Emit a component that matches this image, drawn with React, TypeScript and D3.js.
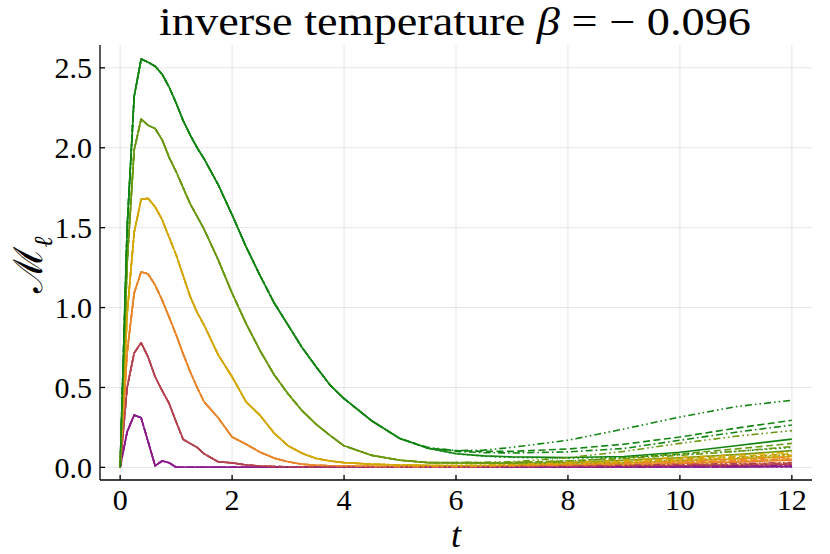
import * as d3 from "d3";

// time grid: shared rise/decay, then the tails where the line styles split apart
const HEAD_T = [0, 0.125, 0.25, 0.375, 0.5, 0.625, 0.75, 0.875, 1, 1.125, 1.25, 1.375, 1.5, 1.75, 2, 2.25, 2.5, 2.75, 3, 3.25, 3.5, 3.75, 4, 4.5, 5];
const TAIL_T = [5.5, 6, 6.5, 7, 8, 9, 10, 11, 12];

const COLORS = ["#8b1a8b", "#b4434f", "#e8862a", "#d4a600", "#6a990f", "#118511"];
const STYLES = ["solid", "dash", "dot", "dashdot", "dashdotdot"];

const HEAD_PURPLE = [0, 0.223, 0.327, 0.31, 0.16, 0.01, 0.04, 0.029, 0.001, 0.001, 0.001, 0.001, 0.001, 0.001, 0.001, 0.001, 0.001, 0.001, 0.001, 0.001, 0.001, 0.001, 0.001, 0.001, 0.001];
const HEAD_RED = [0, 0.5, 0.715, 0.78, 0.69, 0.567, 0.48, 0.4, 0.285, 0.175, 0.15, 0.125, 0.085, 0.035, 0.028, 0.015, 0.008, 0.005, 0.004, 0.003, 0.003, 0.003, 0.003, 0.003, 0.003];
const HEAD_ORANGE = [0, 0.72, 1.09, 1.224, 1.21, 1.14, 1.047, 0.94, 0.83, 0.71, 0.6, 0.5, 0.41, 0.31, 0.19, 0.145, 0.095, 0.058, 0.035, 0.02, 0.013, 0.01, 0.008, 0.006, 0.005];
const HEAD_GOLD = [0, 0.96, 1.47, 1.677, 1.683, 1.63, 1.55, 1.44, 1.33, 1.2, 1.07, 0.97, 0.89, 0.705, 0.567, 0.41, 0.325, 0.215, 0.135, 0.088, 0.056, 0.04, 0.03, 0.02, 0.015];
const HEAD_OLIVE = [0, 1.28, 1.985, 2.18, 2.14, 2.12, 2.05, 1.94, 1.85, 1.75, 1.65, 1.57, 1.49, 1.3, 1.09, 0.9, 0.73, 0.58, 0.46, 0.355, 0.27, 0.2, 0.135, 0.075, 0.045];
const HEAD_GREEN = [0, 1.5, 2.32, 2.555, 2.535, 2.51, 2.46, 2.38, 2.28, 2.17, 2.08, 2.0, 1.93, 1.77, 1.58, 1.38, 1.2, 1.03, 0.89, 0.75, 0.63, 0.515, 0.43, 0.29, 0.18];

// tails per colour, in STYLES order
const TAIL_PURPLE = [
  [0.001, 0.001, 0.001, 0.001, 0.001, 0.002, 0.002, 0.003, 0.004],
  [0.001, 0.001, 0.001, 0.001, 0.002, 0.003, 0.004, 0.005, 0.007],
  [0.001, 0.001, 0.001, 0.001, 0.001, 0.001, 0.002, 0.002, 0.003],
  [0.001, 0.001, 0.001, 0.001, 0.002, 0.002, 0.003, 0.004, 0.006],
  [0.001, 0.001, 0.001, 0.002, 0.003, 0.004, 0.006, 0.008, 0.01],
];
const TAIL_RED = [
  [0.003, 0.003, 0.003, 0.004, 0.005, 0.007, 0.01, 0.013, 0.017],
  [0.003, 0.003, 0.004, 0.005, 0.007, 0.01, 0.014, 0.019, 0.025],
  [0.003, 0.003, 0.003, 0.003, 0.004, 0.005, 0.007, 0.009, 0.012],
  [0.003, 0.003, 0.003, 0.004, 0.006, 0.009, 0.012, 0.016, 0.021],
  [0.003, 0.003, 0.004, 0.006, 0.009, 0.013, 0.018, 0.024, 0.03],
];
const TAIL_ORANGE = [
  [0.004, 0.004, 0.005, 0.006, 0.01, 0.016, 0.024, 0.033, 0.045],
  [0.004, 0.005, 0.006, 0.008, 0.013, 0.02, 0.03, 0.042, 0.055],
  [0.004, 0.004, 0.004, 0.005, 0.007, 0.011, 0.016, 0.022, 0.03],
  [0.004, 0.004, 0.005, 0.007, 0.011, 0.018, 0.027, 0.037, 0.05],
  [0.004, 0.005, 0.007, 0.01, 0.016, 0.025, 0.036, 0.05, 0.065],
];
const TAIL_GOLD = [
  [0.012, 0.01, 0.01, 0.012, 0.018, 0.028, 0.04, 0.053, 0.068],
  [0.012, 0.011, 0.012, 0.015, 0.025, 0.038, 0.053, 0.068, 0.085],
  [0.012, 0.01, 0.009, 0.009, 0.012, 0.018, 0.027, 0.04, 0.055],
  [0.012, 0.011, 0.011, 0.013, 0.02, 0.032, 0.046, 0.06, 0.075],
  [0.012, 0.012, 0.013, 0.017, 0.03, 0.045, 0.062, 0.078, 0.095],
];
const TAIL_OLIVE = [
  [0.03, 0.027, 0.026, 0.026, 0.03, 0.045, 0.06, 0.08, 0.105],
  [0.03, 0.03, 0.03, 0.031, 0.04, 0.06, 0.085, 0.115, 0.15],
  [0.03, 0.026, 0.024, 0.022, 0.024, 0.03, 0.045, 0.06, 0.08],
  [0.03, 0.029, 0.028, 0.03, 0.04, 0.055, 0.075, 0.1, 0.13],
  [0.03, 0.031, 0.032, 0.035, 0.06, 0.1, 0.15, 0.195, 0.23],
];
const TAIL_GREEN = [
  [0.12, 0.085, 0.072, 0.066, 0.062, 0.068, 0.095, 0.135, 0.177],
  [0.12, 0.105, 0.1, 0.1, 0.115, 0.145, 0.19, 0.245, 0.295],
  [0.12, 0.085, 0.07, 0.062, 0.058, 0.063, 0.08, 0.1, 0.125],
  [0.12, 0.1, 0.092, 0.09, 0.097, 0.118, 0.17, 0.22, 0.265],
  [0.125, 0.105, 0.108, 0.125, 0.17, 0.24, 0.315, 0.38, 0.42],
];

const HEADS = [HEAD_PURPLE, HEAD_RED, HEAD_ORANGE, HEAD_GOLD, HEAD_OLIVE, HEAD_GREEN];
const TAILS = [TAIL_PURPLE, TAIL_RED, TAIL_ORANGE, TAIL_GOLD, TAIL_OLIVE, TAIL_GREEN];

const X_TICKS = [0, 2, 4, 6, 8, 10, 12];
const Y_TICKS = [0, 0.5, 1, 1.5, 2, 2.5];

const DASHES: Record<string, string | undefined> = {
  solid: undefined,
  dash: "7,3.5",
  dot: "1.6,3",
  dashdot: "7,3,1.6,3",
  dashdotdot: "7,3,1.6,3,1.6,3",
};

const W = 830;
const H = 554;
const left = 100;
const right = 812;
const top = 45;
const bottom = 480;
const serif = "'Liberation Serif', 'DejaVu Serif', serif";

export default function App() {
  const x = d3.scaleLinear().domain([-0.36, 12.36]).range([left, right]);
  const y = d3.scaleLinear().domain([-0.079, 2.643]).range([bottom, top]);

  const line = d3
    .line<[number, number]>()
    .x((d) => x(d[0]))
    .y((d) => y(d[1]));

  const series: { color: string; style: string; pts: [number, number][] }[] = [];
  STYLES.forEach((style, si) => {
    HEADS.forEach((head, ci) => {
      const pts: [number, number][] = HEAD_T.map((t, i) => [t, head[i]]);
      TAIL_T.forEach((t, i) => pts.push([t, TAILS[ci][si][i]]));
      series.push({ color: COLORS[ci], style, pts });
    });
  });

  return (
    <svg width={W} height={H} style={{ position: "absolute", left: 0, top: 0, background: "#fff" }}>
      <g stroke="#000" strokeOpacity={0.1} strokeWidth={1}>
        {X_TICKS.map((t) => (
          <line key={"gx" + t} x1={x(t)} x2={x(t)} y1={top} y2={bottom} />
        ))}
        {Y_TICKS.map((t) => (
          <line key={"gy" + t} x1={left} x2={right} y1={y(t)} y2={y(t)} />
        ))}
      </g>

      <g fill="none" strokeWidth={1.6} strokeLinejoin="round">
        {series.map((s, i) => (
          <path key={i} d={line(s.pts) ?? ""} stroke={s.color} strokeDasharray={DASHES[s.style]} />
        ))}
      </g>

      <g stroke="#000" strokeWidth={1.3}>
        <line x1={left} x2={left} y1={top} y2={bottom} />
        <line x1={left} x2={right} y1={bottom} y2={bottom} />
        {X_TICKS.map((t) => (
          <line key={"tx" + t} x1={x(t)} x2={x(t)} y1={bottom} y2={bottom - 5} />
        ))}
        {Y_TICKS.map((t) => (
          <line key={"ty" + t} x1={left} x2={left + 5} y1={y(t)} y2={y(t)} />
        ))}
      </g>

      <g fontFamily={serif} fontSize={30} fill="#000">
        {Y_TICKS.map((t) => (
          <text key={"ly" + t} x={left - 8} y={y(t)} dy="0.35em" textAnchor="end">
            {d3.format(".1f")(t)}
          </text>
        ))}
        {X_TICKS.map((t) => (
          <text key={"lx" + t} x={x(t)} y={bottom + 30} textAnchor="middle">
            {t}
          </text>
        ))}
      </g>

      <text
        x={159}
        y={35}
        fontFamily={serif}
        fontSize={39}
        textLength={592}
        lengthAdjust="spacingAndGlyphs"
      >
        inverse temperature <tspan fontStyle="italic">β</tspan> =  − 0.096
      </text>

      <text x={x(6)} y={547} textAnchor="middle" fontFamily={serif} fontSize={36} fontStyle="italic">
        t
      </text>

      <g transform="translate(42,265) rotate(-90)">
        <text x={0} y={0} textAnchor="middle" fontFamily={serif} fontSize={40}>
          ℳ
          <tspan fontSize={26} fontStyle="italic" dy={10}>
            ℓ
          </tspan>
        </text>
      </g>
    </svg>
  );
}
